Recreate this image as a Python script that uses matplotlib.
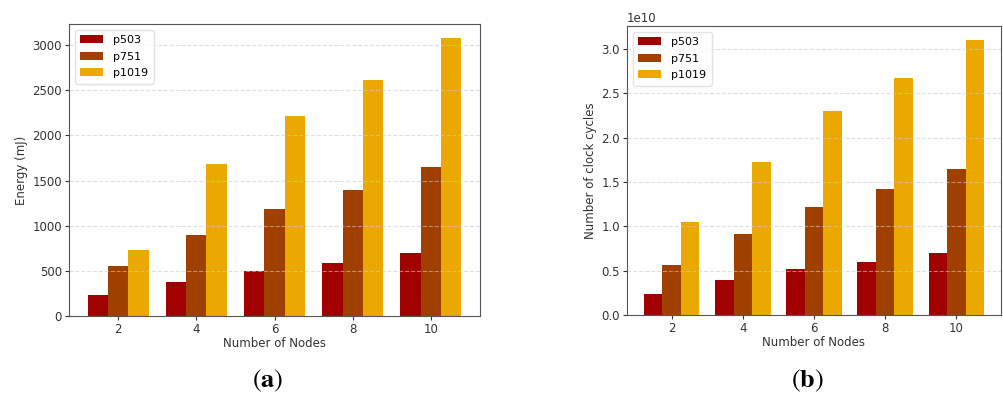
import matplotlib.pyplot as plt
import numpy as np

# Energy / clock cycles vs. number of nodes for three parameter sets
nodes = [2, 4, 6, 8, 10]
series = ['p503', 'p751', 'p1019']
colors = ['#a00000', '#a04000', '#eba800']

energy_p503 = [230, 380, 500, 590, 695]
energy_p751 = [555, 895, 1185, 1395, 1645]
energy_p1019 = [730, 1685, 2220, 2610, 3080]

cycles_p503 = [0.24e10, 0.39e10, 0.517e10, 0.603e10, 0.697e10]
cycles_p751 = [0.566e10, 0.918e10, 1.218e10, 1.421e10, 1.649e10]
cycles_p1019 = [1.053e10, 1.728e10, 2.298e10, 2.673e10, 3.105e10]

fig = plt.figure(figsize=(10.04, 3.96), dpi=100)
ax1 = fig.add_axes([69 / 1004, 80 / 396, 411 / 1004, 292 / 396])
ax2 = fig.add_axes([627 / 1004, 81 / 396, 374 / 1004, 289 / 396])

w = 0.52
x = np.array(nodes)


def grouped_bars(ax, data, ylabel):
    for i, (vals, name) in enumerate(zip(data, series)):
        ax.bar(x + (i - 1) * w, vals, w, color=colors[i], label=name)
    ax.set_xticks(nodes)
    ax.set_xlabel('Number of Nodes', fontsize=8.5, color='#333333', labelpad=1)
    ax.set_ylabel(ylabel, fontsize=8.5, color='#333333', labelpad=3)
    ax.tick_params(labelsize=8.5, colors='#333333', length=3, pad=2)
    ax.grid(axis='y', linestyle='--', color='#c8cccc', alpha=0.6, linewidth=0.8)
    for s in ax.spines.values():
        s.set_color('#555555')
    ax.legend(loc='upper left', fontsize=8, framealpha=0.8, edgecolor='#dddddd',
              handlelength=2.1, handletextpad=0.85, borderpad=0.5,
              labelspacing=0.58)


grouped_bars(ax1, [energy_p503, energy_p751, energy_p1019], 'Energy (mJ)')
grouped_bars(ax2, [cycles_p503, cycles_p751, cycles_p1019], 'Number of clock cycles')
ax2.yaxis.get_offset_text().set_fontsize(8.5)
ax2.yaxis.get_offset_text().set_color('#333333')

plt.rcParams['mathtext.fontset'] = 'stix'
fig.text(268 / 1004, 1 - 381 / 396, r'$\mathrm{(}\mathbf{a}\mathrm{)}$',
         fontsize=19, ha='center', va='center')
fig.text(807 / 1004, 1 - 381 / 396, r'$\mathrm{(}\mathbf{b}\mathrm{)}$',
         fontsize=19, ha='center', va='center')

fig.savefig('out.png', dpi=100)
